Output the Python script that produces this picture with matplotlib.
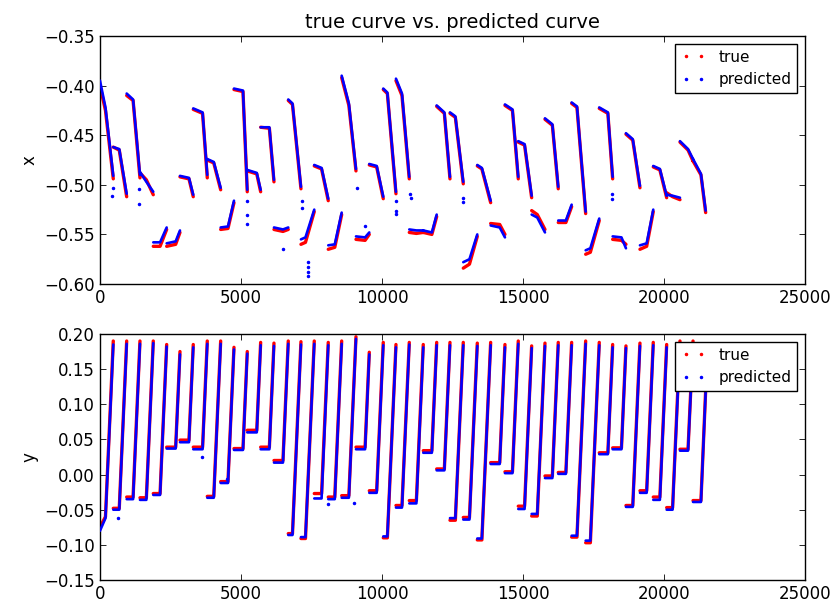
import numpy as np
import matplotlib
matplotlib.use("Agg")
import matplotlib.pyplot as plt
from matplotlib.lines import Line2D
from matplotlib.ticker import MultipleLocator

# sample index where each stroke ends (peak of y) and where its fast part starts
t_end = [472, 947, 1418, 1890, 2365, 2837, 3308, 3805, 4280, 4752, 5223, 5698, 6170, 6677, 7127,
         7599, 8095, 8571, 9078, 9550, 10046, 10496, 10968, 11464, 11940, 12411, 12883, 13380,
         13854, 14361, 14833, 15308, 15780, 16251, 16726, 17223, 17705, 18180, 18652, 19148,
         19620, 20095, 20567, 21030, 21478]
t_knee = [195, 684, 1174, 1645, 2131, 2684, 3156, 3638, 4035, 4539, 5071, 5560, 6007, 6489, 6826,
          7287, 7858, 8326, 8826, 9401, 9812, 10191, 10709, 11220, 11769, 12212, 12602, 13102,
          13542, 14175, 14627, 15056, 15507, 16042, 16521, 16914, 17389, 18010, 18492, 18893,
          19386, 19854, 20305, 20853, 21311]

# x: true values at stroke start / knee / end
x_start = [-0.400, -0.462, -0.410, -0.488, -0.562, -0.562, -0.492, -0.424, -0.475, -0.545,
           -0.404, -0.486, -0.442, -0.545, -0.415, -0.560, -0.481, -0.565, -0.392, -0.555,
           -0.480, -0.404, -0.395, -0.548, -0.548, -0.421, -0.428, -0.584, -0.481, -0.539,
           -0.420, -0.457, -0.526, -0.434, -0.538, -0.418, -0.570, -0.423, -0.555, -0.449,
           -0.565, -0.482, -0.508, -0.457, -0.476]
x_knee = [-0.425, -0.465, -0.415, -0.495, -0.562, -0.560, -0.494, -0.428, -0.478, -0.544,
          -0.406, -0.489, -0.443, -0.547, -0.419, -0.558, -0.484, -0.563, -0.420, -0.556,
          -0.482, -0.408, -0.410, -0.549, -0.550, -0.428, -0.432, -0.580, -0.484, -0.540,
          -0.425, -0.460, -0.530, -0.440, -0.538, -0.422, -0.568, -0.428, -0.556, -0.455,
          -0.562, -0.485, -0.512, -0.465, -0.490]
x_stop = [-0.494, -0.512, -0.493, -0.510, -0.545, -0.548, -0.512, -0.493, -0.505, -0.518,
          -0.507, -0.507, -0.497, -0.545, -0.504, -0.527, -0.516, -0.530, -0.486, -0.550,
          -0.514, -0.509, -0.494, -0.548, -0.532, -0.494, -0.499, -0.552, -0.518, -0.550,
          -0.494, -0.513, -0.545, -0.504, -0.522, -0.529, -0.536, -0.494, -0.560, -0.503,
          -0.527, -0.513, -0.515, -0.476, -0.528]

# x: predicted
px_start = [-0.395, -0.462, -0.408, -0.487, -0.558, -0.559, -0.491, -0.423, -0.474, -0.543,
            -0.403, -0.485, -0.442, -0.543, -0.414, -0.555, -0.480, -0.561, -0.390, -0.552,
            -0.479, -0.403, -0.393, -0.545, -0.546, -0.420, -0.427, -0.578, -0.480, -0.541,
            -0.419, -0.456, -0.530, -0.433, -0.536, -0.417, -0.566, -0.422, -0.552, -0.448,
            -0.561, -0.481, -0.510, -0.456, -0.474]
px_knee = [-0.422, -0.464, -0.414, -0.497, -0.558, -0.557, -0.493, -0.427, -0.477, -0.542,
           -0.405, -0.488, -0.442, -0.545, -0.418, -0.553, -0.483, -0.560, -0.418, -0.553,
           -0.481, -0.407, -0.408, -0.546, -0.548, -0.427, -0.431, -0.575, -0.483, -0.543,
           -0.424, -0.459, -0.533, -0.439, -0.536, -0.421, -0.564, -0.427, -0.553, -0.454,
           -0.559, -0.484, -0.511, -0.464, -0.489]
px_stop = [-0.491, -0.509, -0.490, -0.507, -0.543, -0.546, -0.510, -0.490, -0.503, -0.516,
           -0.505, -0.505, -0.495, -0.543, -0.502, -0.525, -0.514, -0.528, -0.484, -0.548,
           -0.512, -0.507, -0.492, -0.546, -0.530, -0.492, -0.497, -0.550, -0.516, -0.553,
           -0.492, -0.511, -0.548, -0.502, -0.520, -0.527, -0.534, -0.492, -0.564, -0.501,
           -0.525, -0.511, -0.513, -0.474, -0.526]

# y: true values at stroke start / knee (plateau) / end (peak)
y_start = [-0.075, -0.048, -0.032, -0.033, -0.027, 0.039, 0.049, 0.039, -0.031, -0.010,
           0.037, 0.063, 0.039, 0.020, -0.084, -0.091, -0.027, -0.032, -0.030, 0.039,
           -0.023, -0.090, -0.044, -0.037, 0.034, 0.008, -0.065, -0.061, -0.093, 0.017,
           0.004, -0.045, -0.059, -0.002, 0.003, -0.089, -0.097, 0.031, 0.038, -0.044,
           -0.023, -0.032, -0.047, 0.036, -0.037]
y_low = [-0.060, -0.048, -0.032, -0.033, -0.027, 0.039, 0.049, 0.039, -0.031, -0.010,
         0.037, 0.063, 0.039, 0.020, -0.084, -0.091, -0.027, -0.032, -0.030, 0.039,
         -0.023, -0.090, -0.044, -0.037, 0.034, 0.008, -0.065, -0.061, -0.093, 0.017,
         0.004, -0.045, -0.059, -0.002, 0.003, -0.089, -0.097, 0.031, 0.038, -0.044,
         -0.023, -0.032, -0.047, 0.036, -0.037]
y_peak = [0.190, 0.190, 0.190, 0.190, 0.185, 0.175, 0.185, 0.190, 0.190, 0.181,
          0.175, 0.188, 0.187, 0.190, 0.189, 0.190, 0.188, 0.190, 0.196, 0.174,
          0.188, 0.185, 0.188, 0.185, 0.188, 0.188, 0.188, 0.187, 0.188, 0.185,
          0.190, 0.183, 0.187, 0.188, 0.188, 0.190, 0.188, 0.185, 0.183, 0.187,
          0.188, 0.185, 0.190, 0.190, 0.120]

# y: predicted
py_start = [-0.080, -0.050, -0.035, -0.036, -0.029, 0.037, 0.046, 0.036, -0.033, -0.012,
            0.035, 0.060, 0.036, 0.017, -0.086, -0.089, -0.034, -0.035, -0.033, 0.036,
            -0.026, -0.088, -0.047, -0.041, 0.031, 0.006, -0.062, -0.064, -0.091, 0.015,
            0.002, -0.049, -0.056, -0.005, 0.001, -0.087, -0.094, 0.029, 0.036, -0.046,
            -0.026, -0.036, -0.050, 0.034, -0.039]
py_low = [-0.062, -0.050, -0.035, -0.036, -0.029, 0.037, 0.046, 0.036, -0.033, -0.012,
          0.035, 0.060, 0.036, 0.017, -0.086, -0.089, -0.034, -0.035, -0.033, 0.036,
          -0.026, -0.088, -0.047, -0.041, 0.031, 0.006, -0.062, -0.064, -0.091, 0.015,
          0.002, -0.049, -0.056, -0.005, 0.001, -0.087, -0.094, 0.029, 0.036, -0.046,
          -0.026, -0.036, -0.050, 0.034, -0.039]
py_peak = [0.185, 0.186, 0.186, 0.187, 0.182, 0.171, 0.181, 0.186, 0.186, 0.178,
           0.172, 0.184, 0.183, 0.186, 0.185, 0.186, 0.184, 0.186, 0.193, 0.171,
           0.184, 0.181, 0.185, 0.181, 0.184, 0.184, 0.184, 0.183, 0.184, 0.181,
           0.186, 0.180, 0.183, 0.184, 0.184, 0.186, 0.184, 0.181, 0.180, 0.183,
           0.184, 0.181, 0.186, 0.186, 0.118]

# stray predicted samples
stray_x_t = [426, 461, 1390, 1401, 5213, 5220, 5230, 7163, 7170, 7376, 7376, 7376, 7376, 6500,
             9113, 9397, 10480, 10496, 10500, 11009, 11015, 12872, 12880, 18156, 18160]
stray_x_v = [-0.511, -0.503, -0.504, -0.519, -0.516, -0.530, -0.540, -0.516, -0.523, -0.578,
             -0.583, -0.588, -0.592, -0.565, -0.503, -0.542, -0.516, -0.526, -0.529, -0.509,
             -0.513, -0.513, -0.517, -0.509, -0.514]
stray_y_t = [649, 3620, 4500, 8100, 9020]
stray_y_v = [-0.062, 0.025, -0.006, -0.042, -0.040]

t_start = [0] + t_end[:-1]


def strokes(v0, v1, v2):
    # one polyline per stroke, NaN between strokes so jumps are not drawn
    ts, vs = [], []
    for a, b, c, p, q, r in zip(t_start, t_knee, t_end, v0, v1, v2):
        ts += [a, b, c, np.nan]
        vs += [p, q, r, np.nan]
    return ts, vs


fig = plt.figure(figsize=(8.38, 6.10), dpi=100)
ax1 = fig.add_axes([0.1193, 0.5344, 0.8413, 0.4066])
ax2 = fig.add_axes([0.1193, 0.0492, 0.8413, 0.4033])

panels = [
    (ax1, (x_start, x_knee, x_stop), (px_start, px_knee, px_stop), stray_x_t, stray_x_v, "x",
     (-0.60, -0.35)),
    (ax2, (y_start, y_low, y_peak), (py_start, py_low, py_peak), stray_y_t, stray_y_v, "y",
     (-0.15, 0.20)),
]

for ax, true_v, pred_v, st, sv, name, lim in panels:
    t, v = strokes(*true_v)
    ax.plot(t, v, color="red", lw=2.4, solid_capstyle="round", zorder=2)
    t, v = strokes(*pred_v)
    ax.plot(t, v, color="blue", lw=1.9, solid_capstyle="round", zorder=3)
    ax.plot(st, sv, ".", color="blue", ms=3, zorder=3)

    ax.set_xlim(0, 25000)
    ax.set_ylim(*lim)
    ax.xaxis.set_major_locator(MultipleLocator(5000))
    ax.yaxis.set_major_locator(MultipleLocator(0.05))
    ax.tick_params(direction="in", top=True, right=True, length=4, width=0.6, labelsize=12)
    for sp in ax.spines.values():
        sp.set_linewidth(1.0)
    ax.set_ylabel(name, fontsize=12)

    handles = [Line2D([], [], ls="none", marker=".", ms=3, color="red"),
               Line2D([], [], ls="none", marker=".", ms=3, color="blue")]
    leg = ax.legend(handles, ["true", "predicted"], loc="upper right", numpoints=2,
                    fontsize=11, fancybox=False, framealpha=1, edgecolor="black",
                    handlelength=1.6)
    leg.get_frame().set_linewidth(1.0)

# two-decimal labels with a real minus sign, as in the reference
for ax in (ax1, ax2):
    ax.set_yticks(ax.get_yticks())
    ax.set_yticklabels([f"{tk:.2f}".replace("-", "\u2212") for tk in ax.get_yticks()])
ax1.set_ylim(-0.60, -0.35)
ax2.set_ylim(-0.15, 0.20)

ax1.set_title("true curve vs. predicted curve", fontsize=14)

fig.savefig("out.png", dpi=100)
